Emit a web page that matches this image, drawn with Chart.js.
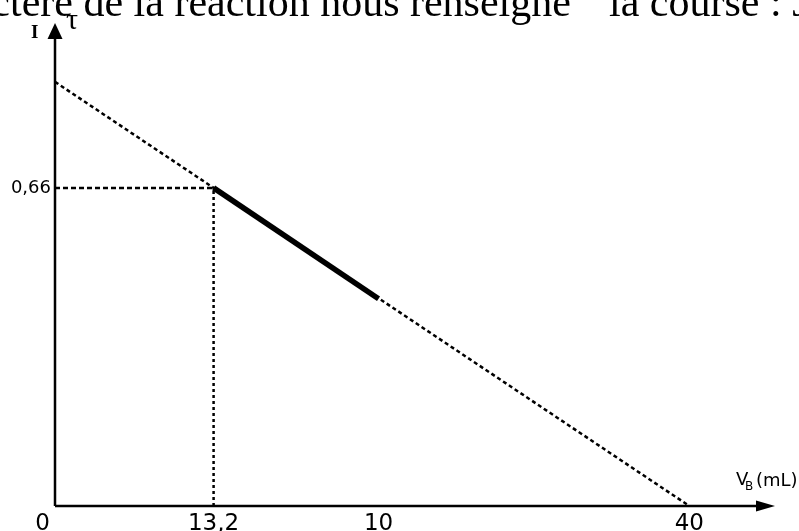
<!DOCTYPE html>
<html>
<head>
<meta charset="utf-8">
<script src="https://cdn.jsdelivr.net/npm/chart.js@4"></script>
<style>
  html, body { margin: 0; padding: 0; background: #fff; }
  #wrap { width: 799px; height: 531px; }
</style>
</head>
<body>
<div id="wrap"><canvas id="graph" width="799" height="531"></canvas></div>
<script>
// values
const xTickValues = [0, 10, 20.4, 40];
const xTickLabels = ['0', '13,2', '10', '40'];
const yTickValues = [0.66];
const yTickLabels = ['0,66'];

const lineX = [0, 40];
const lineY = [0.88, 0];
const boldX = [10, 20.4];
const boldY = [0.66, 0.43];

const headerText = 'ctère de la réaction nous renseigne  "la course : J';

function pts(xs, ys) {
    return xs.map((x, i) => ({ x: x, y: ys[i] }));
}

// axes, arrows and labels, all placed through the chart's scales
const sketch = {
    id: 'sketch',
    beforeDatasetsDraw(chart) {
        const ctx = chart.ctx;
        const xs = chart.scales.x, ys = chart.scales.y;
        const x0 = xs.getPixelForValue(0), y0 = ys.getPixelForValue(0);
        const xEnd = xs.getPixelForValue(xs.max), yEnd = ys.getPixelForValue(ys.max);

        ctx.save();
        ctx.strokeStyle = '#000';
        ctx.fillStyle = '#000';
        ctx.lineWidth = 2.5;
        ctx.beginPath();
        ctx.moveTo(x0, y0); ctx.lineTo(xEnd - 10, y0);
        ctx.moveTo(x0, y0); ctx.lineTo(x0, yEnd + 10);
        ctx.stroke();

        // arrow heads
        ctx.beginPath();
        ctx.moveTo(x0, yEnd - 1); ctx.lineTo(x0 - 7.5, yEnd + 15); ctx.lineTo(x0 + 7.5, yEnd + 15);
        ctx.closePath(); ctx.fill();
        ctx.beginPath();
        ctx.moveTo(xEnd, y0); ctx.lineTo(xEnd - 19, y0 - 5.5); ctx.lineTo(xEnd - 19, y0 + 5.5);
        ctx.closePath(); ctx.fill();

        // x tick labels
        ctx.font = '23px "DejaVu Sans"';
        ctx.textBaseline = 'alphabetic';
        xTickValues.forEach((v, i) => {
            const px = xs.getPixelForValue(v);
            if (v === 0) {
                ctx.textAlign = 'right';
                ctx.fillText(xTickLabels[i], px - 5, y0 + 24);
            } else {
                ctx.textAlign = 'center';
                ctx.fillText(xTickLabels[i], px, y0 + 24);
            }
        });

        // y tick labels
        ctx.font = '18px "DejaVu Sans"';
        ctx.textAlign = 'right';
        ctx.textBaseline = 'middle';
        yTickValues.forEach((v, i) => {
            ctx.fillText(yTickLabels[i], x0 - 4, ys.getPixelForValue(v));
        });

        // axis names
        ctx.textAlign = 'left';
        ctx.textBaseline = 'alphabetic';
        ctx.font = '18px "DejaVu Sans"';
        ctx.fillText('V', xEnd - 39, y0 - 21);
        ctx.font = '12px "DejaVu Sans"';
        ctx.fillText('B', xEnd - 30, y0 - 16);
        ctx.font = '18px "DejaVu Sans"';
        ctx.fillText('(mL)', xEnd - 19, y0 - 20);

        ctx.font = 'bold 19px "Liberation Serif"';
        ctx.fillText('I', x0 - 24, yEnd + 14);
        ctx.font = '30px "Liberation Serif"';
        ctx.fillText('τ', x0 + 11, yEnd + 5);

        // header line cut at the top
        ctx.font = '42px "Liberation Serif"';
        const cw = ctx.measureText('c').width;
        ctx.fillText(headerText, 10 - cw, 16);
        ctx.restore();
    }
};

new Chart(document.getElementById('graph'), {
    type: 'scatter',
    data: {
        datasets: [
            {
                data: pts(lineX, lineY),
                showLine: true,
                borderColor: '#000',
                borderWidth: 2.5,
                borderDash: [4, 3],
                pointRadius: 0
            },
            {
                data: pts([0, boldX[0]], [yTickValues[0], yTickValues[0]]),
                showLine: true,
                borderColor: '#000',
                borderWidth: 2.5,
                borderDash: [5, 3],
                pointRadius: 0
            },
            {
                data: pts([boldX[0], boldX[0]], [0, boldY[0]]),
                showLine: true,
                borderColor: '#000',
                borderWidth: 2.5,
                borderDash: [3, 3],
                pointRadius: 0
            },
            {
                data: pts(boldX, boldY),
                showLine: true,
                borderColor: '#000',
                borderWidth: 5.5,
                pointRadius: 0
            }
        ]
    },
    options: {
        responsive: false,
        animation: false,
        devicePixelRatio: 1,
        layout: { padding: { left: 55, right: 24, top: 24, bottom: 25 } },
        clip: false,
        plugins: {
            legend: { display: false },
            tooltip: { enabled: false }
        },
        scales: {
            x: { type: 'linear', min: 0, max: 45.4, display: false },
            y: { type: 'linear', min: 0, max: 1.0, display: false }
        }
    },
    plugins: [sketch]
});
</script>
</body>
</html>
